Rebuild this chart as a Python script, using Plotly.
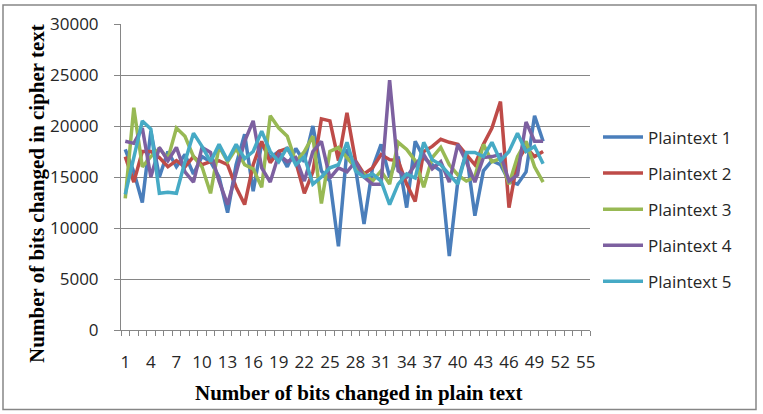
import plotly.graph_objects as go

x_vals = list(range(1, 51))

plaintext1 = [17700, 15500, 12500, 19500, 15000, 17500, 16000, 17200, 15300, 17000,
              16500, 15000, 11500, 16200, 19200, 13600, 18300, 16900, 17500, 16000,
              17800, 16500, 20000, 15600, 14600, 8200, 17700, 15900, 10400, 15900,
              18200, 15000, 17000, 12000, 18500, 16900, 16200, 15600, 7250, 14600,
              17400, 11200, 15600, 16600, 16200, 14600, 14300, 15500, 21000, 18500]

plaintext2 = [17000, 14500, 17500, 17500, 16900, 16000, 16600, 16000, 17000, 16200,
              16500, 16600, 16200, 14000, 12300, 16200, 18500, 16400, 17500, 17800,
              16500, 13400, 15500, 20700, 20500, 16600, 21300, 16600, 15300, 15900,
              17200, 16700, 16600, 14300, 12600, 17500, 18000, 18700, 18400, 18200,
              17200, 16200, 18200, 19800, 22400, 12000, 16600, 17900, 17000, 17500]

plaintext3 = [12900, 21800, 16000, 17000, 17800, 16800, 19800, 19000, 17000, 16000,
              13400, 18000, 16500, 17800, 16200, 15800, 14000, 21000, 19800, 19000,
              16500, 17500, 19000, 12400, 17500, 17900, 16900, 15900, 15300, 14600,
              15600, 14300, 18400, 17700, 16600, 14000, 16900, 17900, 16200, 15200,
              14600, 15000, 18200, 16500, 16800, 14300, 17000, 18500, 16000, 14500]

plaintext4 = [18500, 18300, 19800, 15000, 17900, 16600, 17900, 15500, 14500, 17900,
              17400, 14600, 12300, 15300, 18500, 20500, 15900, 14500, 17200, 16500,
              16900, 14600, 17500, 18500, 14900, 15900, 15500, 16500, 15000, 14300,
              14300, 24500, 15600, 15000, 16200, 17200, 15800, 16500, 14500, 18200,
              16500, 14500, 16900, 17000, 17200, 14600, 15200, 20400, 18500, 18500]

plaintext5 = [13300, 17000, 20500, 19700, 13400, 13500, 13400, 16500, 19300, 18000,
              16500, 18200, 16600, 18200, 16800, 17500, 19500, 17500, 16500, 17900,
              16200, 17000, 14300, 15000, 15900, 16200, 18400, 15600, 15000, 15300,
              14600, 12300, 14300, 15300, 14900, 18400, 16700, 16200, 15300, 14300,
              17400, 17400, 17000, 18400, 16600, 17500, 19300, 17500, 18000, 16300]

series_names = ["Plaintext 1", "Plaintext 2", "Plaintext 3", "Plaintext 4", "Plaintext 5"]
series_values = [plaintext1, plaintext2, plaintext3, plaintext4, plaintext5]
series_colors = ["#4A7EBB", "#BE4B48", "#98B954", "#7D60A0", "#46AAC5"]

x_tick_labels = list(range(1, 56, 3))
y_tick_values = [0, 5000, 10000, 15000, 20000, 25000, 30000]

fig = go.Figure()
for name, vals, col in zip(series_names, series_values, series_colors):
    fig.add_trace(go.Scatter(x=x_vals, y=vals, mode="lines", name=name,
                             legendgroup=name,
                             line=dict(color=col, width=3.5)))

L, R, T, B = 121, 173, 22, 84
W, H = 763, 414
pw = W - L - R
ph = H - T - B

def px(xp):
    return (xp - L) / pw

def py(yp):
    return (H - B - yp) / ph

tick_font = dict(family="Open Sans, Liberation Sans, sans-serif", size=17, color="#262626")
title_font = dict(family="Liberation Serif, Times New Roman, serif", size=21, color="#000000")

fig.update_layout(
    width=W, height=H,
    margin=dict(l=L, r=R, t=T, b=B),
    plot_bgcolor="white", paper_bgcolor="white",
    showlegend=True,
    legend=dict(x=px(598), y=py(118), xanchor="left", yanchor="top",
                font=tick_font, traceorder="grouped", tracegroupgap=11,
                bgcolor="rgba(0,0,0,0)", itemwidth=40),
    xaxis=dict(range=[0.5, 55.5], tickmode="array", tickvals=x_tick_labels,
               ticktext=[str(v) for v in x_tick_labels],
               ticks="", showgrid=False, zeroline=False,
               showline=True, linecolor="#868686", linewidth=1,
               tickfont=tick_font, ticklabelstandoff=17,
               minor=dict(tickmode="array", tickvals=[i + 0.5 for i in range(0, 56)],
                          ticks="outside", ticklen=5, tickcolor="#868686", showgrid=False)),
    yaxis=dict(range=[0, 30000], tickmode="array", tickvals=y_tick_values,
               ticktext=[str(v) for v in y_tick_values],
               ticks="outside", ticklen=6, tickcolor="#868686",
               showgrid=True, gridcolor="#868686", gridwidth=1,
               zeroline=False, showline=True, linecolor="#868686", linewidth=1,
               tickfont=tick_font, ticklabelstandoff=12),
    annotations=[
        dict(text="<b>Number of bits changed in cipher text</b>", xref="paper", yref="paper",
             x=px(37), y=py(193), xanchor="center", yanchor="middle", textangle=-90,
             showarrow=False, font=title_font),
        dict(text="<b>Number of bits changed in plain text</b>", xref="paper", yref="paper",
             x=px(358), y=py(393), xanchor="center", yanchor="middle",
             showarrow=False, font=title_font),
    ],
    shapes=[
        dict(type="rect", xref="paper", yref="paper",
             x0=px(3), x1=px(756), y0=py(410), y1=py(3),
             line=dict(color="#868686", width=1.5), fillcolor="rgba(0,0,0,0)", layer="below"),
    ],
)

fig.write_html("out.html")
